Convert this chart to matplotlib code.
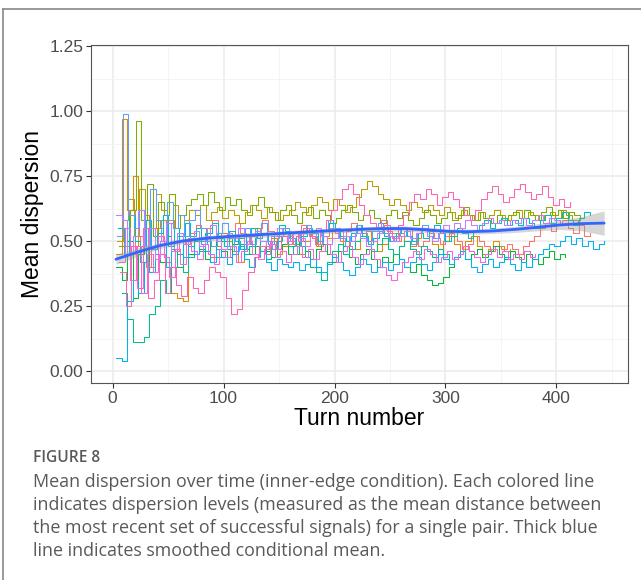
import numpy as np
import matplotlib
matplotlib.use("Agg")
import matplotlib.pyplot as plt
from matplotlib.lines import Line2D

# ---------------- data (values in hundredths, one value every 5 turns) ----------------
turn_step = 5
pair_starts = [5, 3, 4, 6, 3, 8, 5, 3, 4, 3, 6, 7]

pair_salmon = [55,48,62,45,52,40,47,55,50,58,46,52,49,
               53,56,51,55,58,52,50,54,57,53,49,52,55,58,54,51,55,53,
               50,52,56,54,51,48,52,55,53,50,54,57,55,52,49,51,54,56,53,50,
               52,55,51,48,50,53,51,49,52,54,50,47,49,52,50,48,46,48,47,49,
               47,45,48,50,52,55,57,54,56,58,55,53,56,52,53]
pair_orange = [45,97,62,75,48,60,40,55,58,42,30,28,27,45,
               50,47,52,44,48,53,50,46,42,49,52,55,50,47,51,45,48,
               52,49,45,50,53,48,46,51,55,52,48,50,47,52,54,50,46,49,52,50,
               53,50,48,51,55,52,49,47,50,53,49,46,50,52,48,45,47,50,48,46,47]
pair_olive = [50,58,66,52,70,60,55,68,62,57,64,60,58,
              62,60,64,58,61,63,59,62,60,57,61,64,62,59,63,61,58,60,
              62,65,63,60,64,67,65,62,66,64,61,63,67,70,73,71,68,66,64,66,
              64,62,65,63,61,64,62,60,63,61,59,62,60,58,61,59,60,62,60,58,
              60,62,59,61,60,58,60,61,59,62,60,58,56]
pair_lime = [48,55,62,96,58,72,52,65,60,68,55,60,64,
             66,68,64,69,65,62,67,64,66,62,60,64,67,63,61,58,62,64,
             60,57,61,63,59,62,60,57,59,62,64,61,58,60,62,59,57,60,62,59,
             61,58,56,59,62,60,57,59,61,58,60,63,60,58,61,59,57,60,58,60,
             61,59,62,60,58,61,63,60,62,59,61,60,58]
pair_green = [40,35,50,28,45,55,38,48,42,52,46,40,49,
              45,50,47,43,48,52,46,44,49,51,47,45,48,50,46,44,47,49,
              45,48,50,46,43,47,49,45,42,46,48,44,41,45,47,43,40,44,42,45,
              43,40,38,41,37,35,33,34,36,40,44,46,43,45,47,44,46,48,45,43,
              46,44,42,45,43,41,44,46,43,45,44]
pair_teal = [30,20,11,11,13,22,25,35,30,40,45,38,44,
             50,46,53,48,44,50,47,52,49,45,48,51,46,43,47,50,52,48,
             45,48,44,40,38,35,42,46,49,45,47,50,52,48,46,49,51,47,45,48,
             50,47,45,48,46,44,47,45,43]
pair_cyan = [55,45,60,50,42,58,47,53,60,48,55,50,57,
             52,55,49,53,57,51,48,54,50,47,52,55,51,53,49,52,56,54,
             51,48,52,55,53,50,54,57,55,52,50,53,56,52,49,51,54,52,50,53,
             55,52,50,53,51,54,56,53,50,52,55,53,51,54,56,58,55,57,59,56,
             58,56,59,57,55,58,60,57,59,61,58,56,59,61,60]
pair_sky = [5,4,27,35,30,42,38,45,50,40,47,52,44,
            48,45,50,46,42,47,44,41,45,48,43,40,44,46,42,39,43,41,
            40,42,39,41,43,40,38,41,44,42,39,37,40,43,41,38,40,42,39,41,
            43,40,42,44,41,39,42,45,43,41,44,46,43,40,38,41,43,40,42,44,
            41,39,42,40,43,45,47,49,48,50,52,49,51,48,50,47,49,50]
pair_blue = [52,99,60,55,62,48,70,58,50,65,55,60,52,
             58,62,55,50,48,53,57,51,46,52,55,49,53,57,50,47,52,55,
             51,48,53,56,52,49,54,58,55,51,48,52,56,53,50,54,57,53,50,52,
             55,52,49,53,56,54,51,53,50]
pair_purple = [60,58,45,52,62,48,55,43,50,57,46,53,49,
               51,54,48,52,56,50,47,53,51,55,49,52,54,50,48,52,55,53,
               50,53,51,48,52,55,52,49,51,54,52,50,53,51,48,50,53,55,52,50,
               52,54,51,53,55,52,50,53,56,54,57,55,58,56,54,57,59,57,58,56,
               58,57,59,56,58,60,57,59,58,56,57]
pair_magenta = [42,55,35,48,30,45,38,52,44,36,47,41,50,
                46,43,49,45,41,47,44,48,42,46,50,45,43,47,49,44,46,42,
                45,48,44,47,43,46,49,45,42,46,48,44,41,45,47,43,40,37,35,38,
                42,44,46,43,47,45,42,44,46,43,45,48,46,44,42,45,47,44,46,43,
                45,43,46,44,45]
pair_pink = [38,25,48,32,55,28,35,45,30,40,33,29,36,
             32,30,35,40,38,36,28,22,24,31,38,44,48,45,50,47,52,49,
             53,50,55,52,49,54,58,62,66,70,72,68,64,60,57,55,58,54,51,56,
             60,65,68,66,70,68,64,67,69,66,63,60,58,62,66,69,71,68,65,67,
             70,72,69,66,68,71,67,64,66,63,65]

pairs = [pair_salmon, pair_orange, pair_olive, pair_lime, pair_green, pair_teal,
         pair_cyan, pair_sky, pair_blue, pair_purple, pair_magenta, pair_pink]
pair_colors = ["#F8766D", "#DE8C00", "#B79F00", "#7CAE00", "#00BA38", "#00C08B",
               "#00BFC4", "#00B4F0", "#619CFF", "#C77CFF", "#F564E3", "#FF64B0"]

smooth_x = [3,23,43,63,83,103,123,143,163,183,203,223,243,263,283,303,323,343,363,383,403,423,443]
smooth_y = [0.430,0.458,0.483,0.500,0.510,0.517,0.522,0.527,0.532,0.537,0.541,0.545,0.548,
            0.548,0.543,0.537,0.536,0.539,0.545,0.553,0.562,0.567,0.569]
smooth_se = [0.010,0.008,0.006,0.005,0.005,0.005,0.005,0.005,0.005,0.005,0.005,0.005,0.005,
             0.005,0.005,0.005,0.005,0.005,0.006,0.007,0.009,0.014,0.024]

x_ticks = [0, 100, 200, 300, 400]
y_ticks = [0.00, 0.25, 0.50, 0.75, 1.00, 1.25]
y_ticklabels = ["0.00", "0.25", "0.50", "0.75", "1.00", "1.25"]

caption_head = "FIGURE 8"
caption_lines = [
    "Mean dispersion over time (inner-edge condition). Each colored line",
    "indicates dispersion levels (measured as the mean distance between",
    "the most recent set of successful signals) for a single pair. Thick blue",
    "line indicates smoothed conditional mean.",
]

# ---------------- figure ----------------
fig = plt.figure(figsize=(6.41, 5.80), dpi=100)
ax = fig.add_axes([91/641, 1-383/580, (628-91)/641, (383-45)/580])

for vals, col, t0 in zip(pairs, pair_colors, pair_starts):
    v = np.array(vals) / 100.0
    t = t0 + turn_step * np.arange(len(v))
    ax.plot(t, v, color=col, lw=0.75, drawstyle="steps-post", zorder=2)

sx = np.array(smooth_x); sy = np.array(smooth_y); se = np.array(smooth_se)
ax.fill_between(sx, sy - 1.96*se, sy + 1.96*se, color="#999999", alpha=0.4, lw=0, zorder=3)
ax.plot(sx, sy, color="#3366FF", lw=2.0, zorder=4, solid_capstyle="round")

ax.set_xlim(-19.5, 464.5)
ax.set_ylim(-0.046, 1.254)
ax.set_xticks(x_ticks)
ax.set_xticks([50, 150, 250, 350, 450], minor=True)
ax.set_yticks(y_ticks)
ax.set_yticklabels(y_ticklabels)
ax.set_yticks([0.125, 0.375, 0.625, 0.875, 1.125], minor=True)
ax.grid(True, which="major", color="#EBEBEB", lw=1.1, zorder=0)
ax.grid(True, which="minor", color="#F2F2F2", lw=0.6, zorder=0)
ax.set_axisbelow(True)
ax.tick_params(which="major", length=3.5, width=0.8, color="#333333",
               labelsize=12.5, labelcolor="#4D4D4D", pad=2)
ax.tick_params(which="minor", length=0)
for lab in ax.get_xticklabels() + ax.get_yticklabels():
    lab.set_family("Liberation Sans")
for sp in ax.spines.values():
    sp.set_color("#555555")
    sp.set_linewidth(0.8)

ax.set_xlabel("Turn number", fontsize=16.5, family="Liberation Sans", color="black", labelpad=1)
ax.set_ylabel("Mean dispersion", fontsize=16.5, family="Liberation Sans", color="black", labelpad=4)

# outer frame (top and left)
fig.add_artist(Line2D([3/641, 1.0], [1-9/580, 1-9/580], transform=fig.transFigure, color="#888888", lw=1.2))
fig.add_artist(Line2D([3/641, 3/641], [0.0, 1-9/580], transform=fig.transFigure, color="#888888", lw=1.2))

fig.text(33/641, 1-458/580, caption_head, fontsize=11.2, family="Open Sans", color="#58595B",
         va="center", ha="left", fontweight="semibold")
for i, line in enumerate(caption_lines):
    fig.text(33/641, 1-(482 + 23*i)/580, line, fontsize=12.9, family="Open Sans",
             color="#58595B", va="center", ha="left")

fig.savefig("out.png", dpi=100)
